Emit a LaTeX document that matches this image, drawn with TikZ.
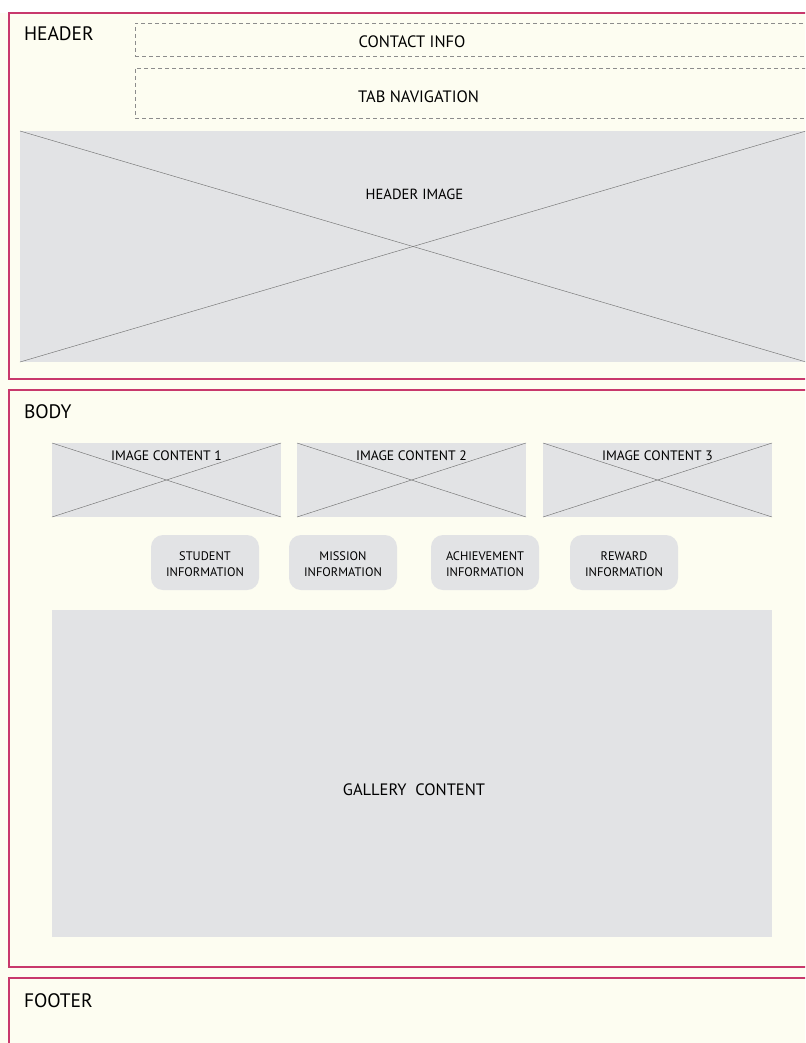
\documentclass[tikz,border=0pt]{standalone}
\usepackage{fontspec}
\setmainfont{PT Sans}
\begin{document}
\begin{tikzpicture}[x=1pt,y=-1pt,
  every node/.style={inner sep=0pt, outer sep=0pt, font=\fontsize{12}{14}\selectfont, text=black},
  panel/.style={draw=crimson, line width=1.4pt, fill=cream, rectangle},
  dashbox/.style={draw=black!45, line width=0.6pt, dash pattern=on 4pt off 3pt, rectangle},
  imgbox/.style={fill=placeholder, rectangle},
  cross/.style={draw=black!55, line width=0.45pt},
  pill/.style={fill=placeholder, rectangle, rounded corners=12pt, minimum width=108pt, minimum height=55pt},
  pilltext/.style={align=center, font=\fontsize{12.4}{16}\selectfont},
  title/.style={anchor=west, font=\fontsize{19.5}{22}\selectfont},
  caption/.style={font=\fontsize{16.5}{18}\selectfont},
  smallcap/.style={font=\fontsize{13.7}{16}\selectfont},
]
\definecolor{crimson}{HTML}{C8386C}
\definecolor{cream}{HTML}{FDFDF1}
\definecolor{placeholder}{HTML}{E2E3E5}
% page and clipping area
\useasboundingbox (0,0) rectangle (805,1043);
\clip (0,0) rectangle (805,1043);
\fill[white] (0,0) rectangle (805,1043);
\fill[cream] (0,13) rectangle (805,1043);

% ---------- header ----------
\node[panel, minimum width=811pt, minimum height=366pt] (header) at (414.5,196) {};
\node[title] (headerlbl) at (24,34) {HEADER};
\node[dashbox, minimum width=685pt, minimum height=33pt] (contact) at (477.5,39.5) {};
\node[caption] (contactlbl) at (412,42) {CONTACT INFO};
\node[dashbox, minimum width=685pt, minimum height=50pt] (tabs) at (477.5,93) {};
\node[caption] (tabslbl) at (418.5,97) {TAB NAVIGATION};
\node[imgbox, minimum width=786pt, minimum height=231pt] (himg) at (413,246.5) {};
\draw[cross] (himg.north west) -- (himg.south east);
\draw[cross] (himg.south west) -- (himg.north east);
\node[smallcap, font=\fontsize{14.7}{16}\selectfont] (himglbl) at (414.5,194) {HEADER IMAGE};

% ---------- body ----------
\node[panel, minimum width=811pt, minimum height=577pt] (body) at (414.5,678.5) {};
\node[title] (bodylbl) at (24,412) {BODY};
\foreach \cx/\n in {166.5/1, 411.5/2, 657.5/3}{
  \node[imgbox, minimum width=229pt, minimum height=74pt] (img\n) at (\cx,480) {};
  \draw[cross] (img\n.north west) -- (img\n.south east);
  \draw[cross] (img\n.south west) -- (img\n.north east);
  \node[smallcap] (img\n lbl) at (\cx,455.5) {IMAGE CONTENT \n};
}
\foreach \cx/\nm/\txt in {205/student/STUDENT, 343/mission/MISSION, 485/achieve/ACHIEVEMENT, 624/reward/REWARD}{
  \node[pill] (\nm) at (\cx,562.5) {};
  \node[pilltext] (\nm lbl) at ([yshift=-1.5pt]\nm.center) {\txt\\INFORMATION};
}
\node[imgbox, minimum width=720pt, minimum height=327pt] (gallery) at (412,773.5) {};
\node[caption] (gallerylbl) at (414,790) {GALLERY\ \ CONTENT};

% ---------- footer ----------
\node[panel, minimum width=811pt, minimum height=82pt] (footer) at (414.5,1019) {};
\node[title] (footerlbl) at (24,1001) {FOOTER};
\end{tikzpicture}
\end{document}
